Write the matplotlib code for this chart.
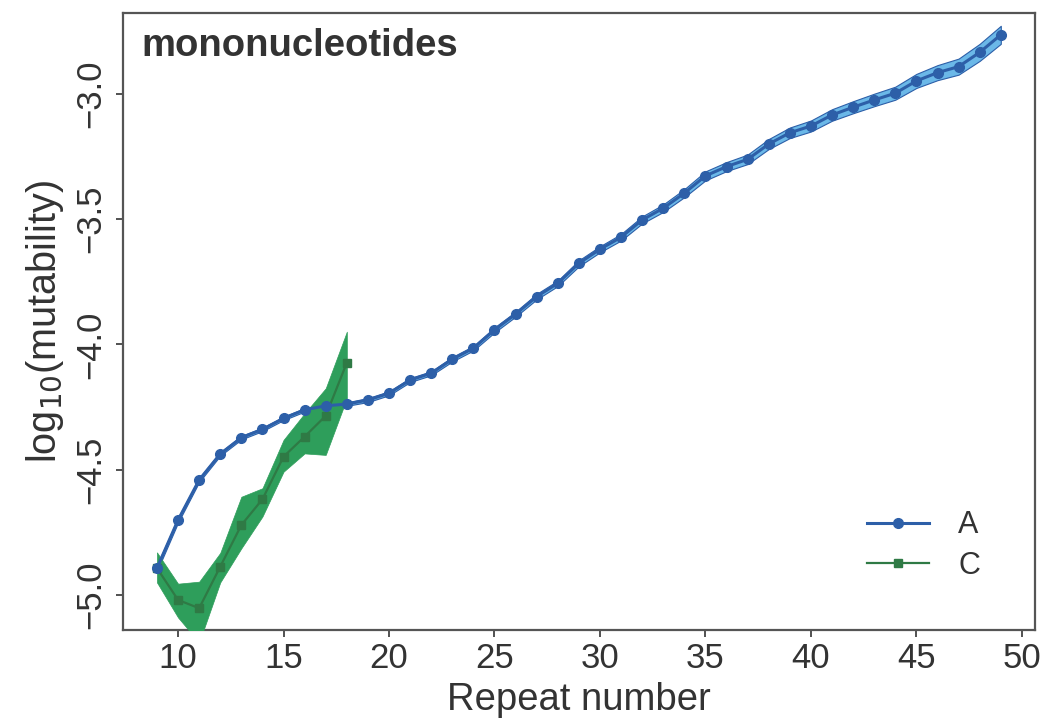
import numpy as np
import matplotlib
matplotlib.use("Agg")
import matplotlib.pyplot as plt

plt.rcParams['font.family'] = ['Liberation Sans', 'DejaVu Sans']

# Series A (mononucleotide A repeats)
a_x = list(range(9, 50))
a_y = [-4.893, -4.701, -4.541, -4.437, -4.372, -4.339, -4.295, -4.261, -4.245,
       -4.238, -4.222, -4.195, -4.142, -4.115, -4.059, -4.015, -3.942, -3.879,
       -3.809, -3.756, -3.676, -3.620, -3.572, -3.503, -3.456, -3.396, -3.327,
       -3.290, -3.261, -3.200, -3.155, -3.128, -3.084, -3.053, -3.024, -2.997,
       -2.948, -2.915, -2.891, -2.834, -2.764]
a_err = [0.012, 0.010, 0.008, 0.007, 0.007, 0.007, 0.007, 0.007, 0.007,
         0.007, 0.008, 0.008, 0.008, 0.008, 0.009, 0.009, 0.010, 0.010,
         0.011, 0.011, 0.012, 0.012, 0.013, 0.014, 0.015, 0.016, 0.018,
         0.018, 0.019, 0.020, 0.021, 0.022, 0.023, 0.024, 0.025, 0.026,
         0.028, 0.030, 0.032, 0.034, 0.036]

# Series C (mononucleotide C repeats)
c_x = list(range(9, 19))
c_y = [-4.893, -5.020, -5.053, -4.887, -4.721, -4.618, -4.448, -4.368, -4.285, -4.073]
c_lo = [-4.950, -5.090, -5.190, -4.950, -4.814, -4.687, -4.508, -4.435, -4.441, -4.215]
c_hi = [-4.830, -4.955, -4.947, -4.832, -4.608, -4.574, -4.381, -4.275, -4.175, -3.949]

x_ticks = [10, 15, 20, 25, 30, 35, 40, 45, 50]
y_ticks = [-5.0, -4.5, -4.0, -3.5, -3.0]

blue_line = '#2d5fa8'
blue_fill = '#6bb8e8'
green_line = '#2f7a45'
green_fill = '#2e9e5b'

fig = plt.figure(figsize=(10.45, 7.28), dpi=100)
ax = fig.add_axes([0.1177, 0.1346, 0.8727, 0.8475])

a_y_arr = np.array(a_y)
a_err_arr = np.array(a_err)
ax.fill_between(a_x, a_y_arr - a_err_arr, a_y_arr + a_err_arr, color=blue_fill,
                edgecolor=blue_line, linewidth=0.8, zorder=2)
ax.fill_between(c_x, c_lo, c_hi, color=green_fill, edgecolor=green_fill,
                linewidth=0.5, zorder=3)
ax.plot(c_x, c_y, color=green_line, linewidth=1.6, marker='s', markersize=5.5,
        markerfacecolor=green_line, markeredgecolor=green_line, zorder=4, label='C')
ax.plot(a_x, a_y, color=blue_line, linewidth=2.2, marker='o', markersize=7,
        markerfacecolor=blue_line, markeredgecolor=blue_line, zorder=5, label='A')

ax.set_xlim(7.39, 50.62)
ax.set_ylim(-5.14, -2.677)
ax.set_xticks(x_ticks)
ax.set_xticklabels([str(t) for t in x_ticks])
ax.set_yticks(y_ticks)
ax.set_yticklabels([f"\u2212{abs(t):.1f}" for t in y_ticks], rotation=90, va='center')

for s in ax.spines.values():
    s.set_color('#555555')
    s.set_linewidth(1.6)
ax.tick_params(axis='both', colors='#333333', labelcolor='#333333', labelsize=25,
               length=5, width=1.2, direction='out')
ax.tick_params(axis='y', pad=6)

ax.set_xlabel('Repeat number', fontsize=27.5, color='#333333', labelpad=5)
ax.set_ylabel(r'log$_{10}$(mutability)', fontsize=28.5, color='#333333', labelpad=6)

ax.text(0.02, 0.975, 'mononucleotides', transform=ax.transAxes, fontsize=27.5,
        fontweight='bold', color='#333333', va='top', ha='left')

handles, labels = ax.get_legend_handles_labels()
order = [labels.index('A'), labels.index('C')]
leg = ax.legend([handles[i] for i in order], [labels[i] for i in order],
                loc='lower right', bbox_to_anchor=(0.97, 0.035), frameon=False,
                fontsize=22, handlelength=2.05, handletextpad=0.95, labelspacing=0.35)
for t in leg.get_texts():
    t.set_color('#333333')

fig.savefig('out.png', dpi=100, facecolor='white')
